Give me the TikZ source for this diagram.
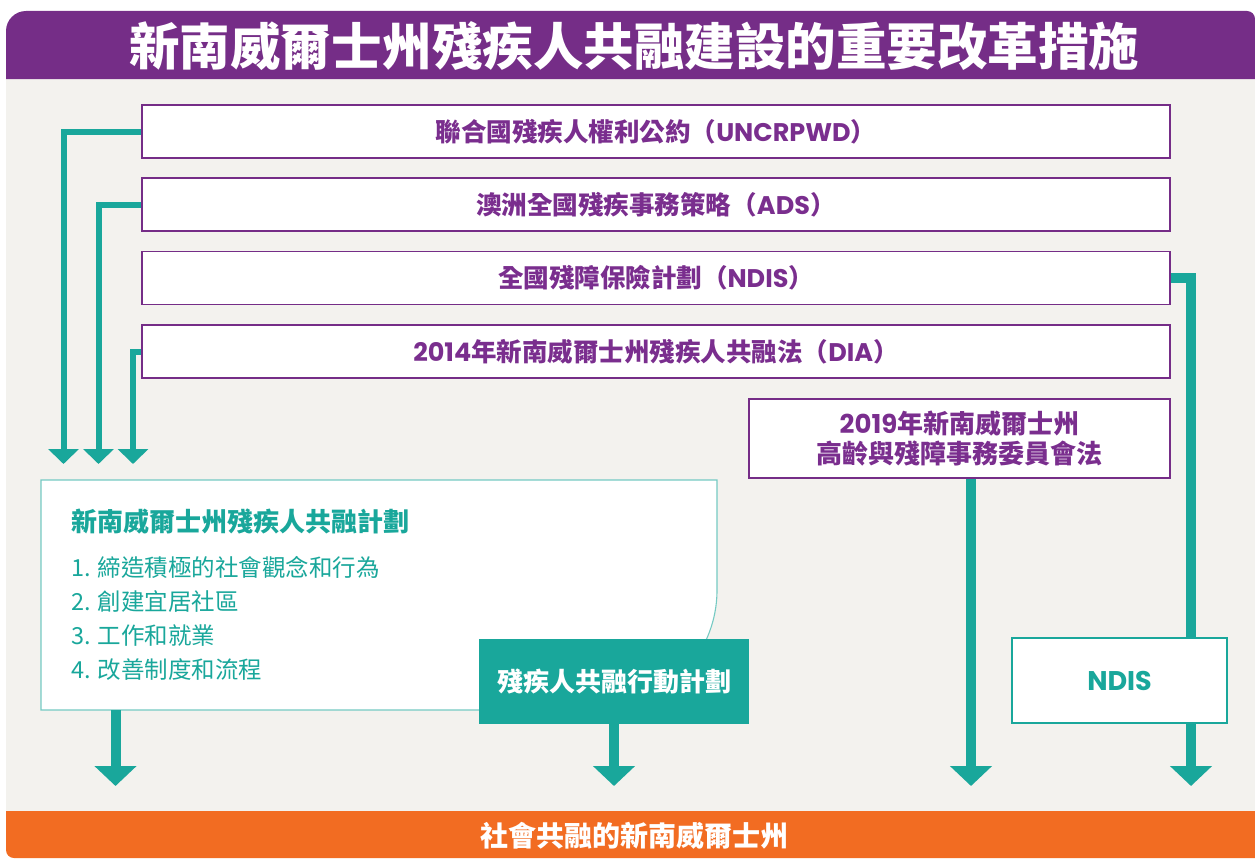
\documentclass[tikz,border=0pt]{standalone}
\usepackage{fontspec}
\setmainfont{Noto Sans CJK TC}
\newfontfamily\lat{Poppins}
\usetikzlibrary{arrows.meta}
\definecolor{purp}{HTML}{752D87}
\definecolor{purptxt}{HTML}{7A2E8E}
\definecolor{teal}{HTML}{19A79B}
\definecolor{orng}{HTML}{F26C22}
\definecolor{bgc}{HTML}{F3F2EE}
\newcommand\lt[1]{{\lat\bfseries #1}}
\tikzset{
  pbox/.style={draw=purp, line width=1.3pt, fill=white, minimum width=1028pt, minimum height=53pt, inner sep=0pt,
    text=purptxt, font=\bfseries\fontsize{25.5}{29}\selectfont},
  thinarr/.style={draw=teal, line width=6pt, -{Triangle[width=30pt,length=15pt]}},
  thickline/.style={draw=teal, line width=10pt},
  thickarr/.style={draw=teal, line width=10pt, -{Triangle[width=41pt,length=20pt]}},
  item/.style={anchor=west, text=teal, inner sep=0pt, font=\fontsize{23.5}{26}\selectfont}
}
\begin{document}
\begin{tikzpicture}[x=1pt,y=-1pt]
\useasboundingbox (0,0) rectangle (1255,859);
% background panel
\fill[bgc] (6,79) rectangle (1255,811);
% title bar
\fill[purp] (6,79) -- (6,31) arc[start angle=180,end angle=270,radius=20] -- (1247,11)
  arc[start angle=270,end angle=360,radius=8] -- (1255,79) -- cycle;
\node[text=white, font=\bfseries\fontsize{50.5}{54}\selectfont, inner sep=0pt] (title) at (634,46) {新南威爾士州殘疾人共融建設的重要改革措施};
% bottom bar
\fill[orng] (6,811) -- (1255,811) -- (1255,858) -- (14,858) arc[start angle=90,end angle=180,radius=8] -- cycle;
\node[text=white, font=\bfseries\fontsize{28}{30}\selectfont, inner sep=0pt] (goal) at (634,836) {社會共融的新南威爾士州};

% purple boxes
\node[pbox] (b1) at (656,131.5) {聯合國殘疾人權利公約（\lt{UNCRPWD}）};
\node[pbox] (b2) at (656,204.5) {澳洲全國殘疾事務策略（\lt{ADS}）};
\node[pbox] (b3) at (656,278) {全國殘障保險計劃（\lt{NDIS}）};
\node[pbox] (b4) at (656,351.5) {\lt{2014}年新南威爾士州殘疾人共融法（\lt{DIA}）};
\node[pbox, minimum width=421pt, minimum height=79pt, align=center, font=\bfseries\fontsize{26}{30}\selectfont] (b5) at (959.5,438.5) {\lt{2019}年新南威爾士州\\高齡與殘障事務委員會法};

% plan box
\node[minimum width=676pt, minimum height=230pt, inner sep=0pt] (plan) at (379,595) {};
\fill[white] (41,480) -- (717,480) -- (717,590) arc[start angle=0,end angle=90,radius=120] -- (41,710) -- cycle;
\draw[teal!60, line width=1.1pt] (41,480) -- (717,480) -- (717,590) arc[start angle=0,end angle=90,radius=120] -- (41,710) -- cycle;
\node[item, font=\bfseries\fontsize{26}{28}\selectfont] (pt) at (71,521) {新南威爾士州殘疾人共融計劃};
\node[item] (i1) at (71,567) {1. 締造積極的社會觀念和行為};
\node[item] (i2) at (71,602) {2. 創建宜居社區};
\node[item] (i3) at (71,636) {3. 工作和就業};
\node[item] (i4) at (71,670) {4. 改善制度和流程};

% action plan box
\node[fill=teal, minimum width=270pt, minimum height=85pt, inner sep=0pt, text=white, font=\bfseries\fontsize{26}{28}\selectfont] (act) at (614,681.5) {殘疾人共融行動計劃};

% left arrows
\coordinate (t1) at (63.5,464);
\coordinate (t2) at (98.5,464);
\coordinate (t3) at (133,464);
\draw[thinarr] (b1.west) -| (t1);
\draw[thinarr] (b2.west) -| (t2);
\draw[thinarr] (b4.west) -| (t3);

% NDIS box and connectors
\node[draw=teal, line width=1.3pt, fill=white, minimum width=215pt, minimum height=85pt, inner sep=0pt, text=teal, font=\fontsize{27}{30}\selectfont] (ndis) at (1119.5,680.5) {\lt{NDIS}};
\draw[thickline] (b3.east) -| ([xshift=71.5pt]ndis.north);

% bottom arrows
\coordinate (e1) at (115.5,786);
\coordinate (e2) at (614,786);
\coordinate (e3) at (971,786);
\coordinate (e4) at (1191,786);
\draw[thickarr] (plan.south west -| e1) -- (e1);
\draw[thickarr] (act.south) -- (e2);
\draw[thickarr] (b5.south -| e3) -- (e3);
\draw[thickarr] ([xshift=71.5pt]ndis.south) -- (e4);
\end{tikzpicture}
\end{document}
